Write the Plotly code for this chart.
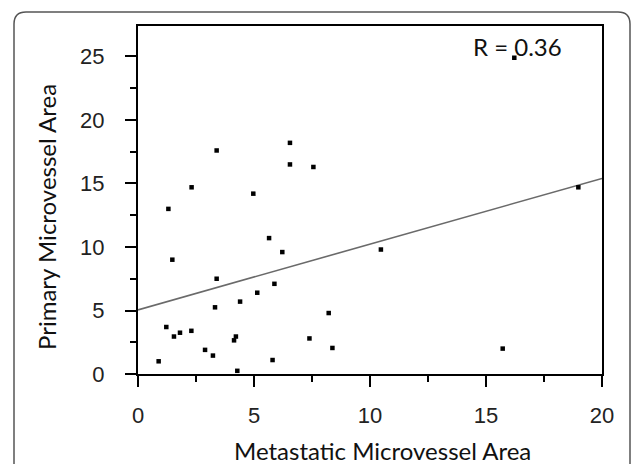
import plotly.graph_objects as go

# Scatter values
metastatic = [3.39, 6.55, 6.55, 7.56, 2.31, 1.31, 4.97, 5.65, 6.22, 1.48,
              3.39, 5.88, 5.14, 4.40, 3.32, 8.22, 1.22, 1.81, 1.55, 2.30,
              4.22, 4.14, 7.39, 2.89, 3.23, 8.38, 0.89, 5.80, 4.28, 10.47,
              18.98, 15.72, 16.22]
primary = [17.6, 18.2, 16.5, 16.3, 14.7, 13.0, 14.2, 10.7, 9.6, 9.0,
           7.5, 7.1, 6.4, 5.7, 5.25, 4.8, 3.7, 3.25, 2.95, 3.4,
           2.95, 2.65, 2.8, 1.9, 1.45, 2.05, 1.0, 1.1, 0.25, 9.8,
           14.7, 2.0, 24.9]

# Regression line end points
fit_x = [0, 20]
fit_y = [5.05, 15.4]

L, T, R, B = 138, 26, 30, 90
W, H = 632, 464
PW, PH = W - L - R, H - T - B


def px(x, y):
    # pixel -> paper coords (for placing decorations by eye)
    return (x - L) / PW, (H - B - y) / PH


fig = go.Figure()
fig.add_trace(go.Scatter(x=fit_x, y=fit_y, mode="lines",
                         line=dict(color="#6a6a6a", width=1.6),
                         hoverinfo="skip", showlegend=False))
fig.add_trace(go.Scatter(x=metastatic, y=primary, mode="markers",
                         marker=dict(color="black", size=4.5, symbol="square"),
                         showlegend=False))

# Outer rounded frame around the whole panel
x0, y0 = px(14, 12)
x1, _ = px(630, 12)
_, yb = px(14, 470)
rx, ry = 12 / PW, 12 / PH
path = (f"M {x0},{yb} L {x0},{y0 - ry} Q {x0},{y0} {x0 + rx},{y0} "
        f"L {x1 - rx},{y0} Q {x1},{y0} {x1},{y0 - ry} L {x1},{yb}")
fig.add_shape(type="path", path=path, xref="paper", yref="paper",
              line=dict(color="#555", width=1.5), layer="above")

title_font = dict(family="Lato, Open Sans, sans-serif", size=24, color="#111")

ax, ay = px(517, 46)
fig.add_annotation(text="R = 0.36", x=ax, y=ay, xanchor="center", yanchor="middle",
                   xref="paper", yref="paper", showarrow=False,
                   font=dict(family="Lato, Open Sans, sans-serif", size=24, color="#111"))

# axis titles as annotations (they sit off-centre in the reference)
tx, ty = px(382, 450)
fig.add_annotation(text="Metastatic Microvessel Area", x=tx, y=ty,
                   xanchor="center", yanchor="middle",
                   xref="paper", yref="paper", showarrow=False, font=title_font)
tx, ty = px(46, 217)
fig.add_annotation(text="Primary Microvessel Area", x=tx, y=ty, textangle=-90,
                   xanchor="center", yanchor="middle",
                   xref="paper", yref="paper", showarrow=False, font=title_font)

tick_font = dict(family="Liberation Sans, Arial", size=22, color="#222")

common = dict(ticks="outside", ticklen=11, tickwidth=2, tickcolor="black",
              minor=dict(dtick=2.5, ticks="outside", ticklen=6, tickwidth=2, tickcolor="black"),
              showline=True, linecolor="black", linewidth=2, mirror=True,
              showgrid=False, zeroline=False, tickfont=tick_font, automargin=False)

fig.update_xaxes(range=[0, 20], tickvals=[0, 5, 10, 15, 20],
                 ticklabelstandoff=10, **common)
fig.update_yaxes(range=[0, 27.4], tickvals=[0, 5, 10, 15, 20, 25],
                 ticklabelstandoff=16, **common)

fig.update_layout(width=W, height=H, margin=dict(l=L, r=R, t=T, b=B),
                  paper_bgcolor="white", plot_bgcolor="white")

fig.write_html("out.html", config={"displayModeBar": False},
               post_script="document.body.style.margin='0px';")
